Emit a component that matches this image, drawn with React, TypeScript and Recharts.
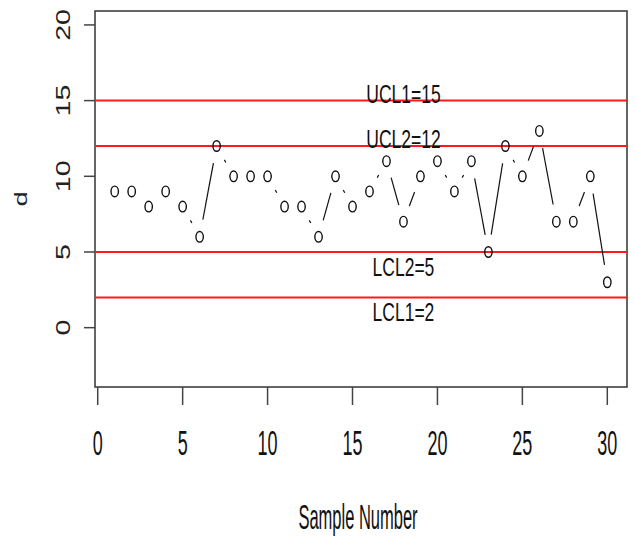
import { LineChart, Line, XAxis, YAxis, ReferenceLine, ReferenceArea, ReferenceDot } from 'recharts';

// samples and number of defectives per sample
const samples = [1, 2, 3, 4, 5, 6, 7, 8, 9, 10, 11, 12, 13, 14, 15, 16, 17, 18, 19, 20, 21, 22, 23, 24, 25, 26, 27, 28, 29, 30];
const defects = [9, 9, 8, 9, 8, 6, 12, 10, 10, 10, 8, 8, 6, 10, 8, 9, 11, 7, 10, 11, 9, 11, 5, 12, 10, 13, 7, 7, 10, 3];

// control limits
const limitNames = ['UCL1', 'UCL2', 'LCL2', 'LCL1'];
const limitValues = [15, 12, 5, 2];
const limitLabelX = 18;

const xTicks = [0, 5, 10, 15, 20, 25, 30];
const yTicks = [0, 5, 10, 15, 20];
const xDomain = [-0.16, 31.16];
const yDomain = [-3.92, 20.92];

const data = samples.map((s, i) => ({ sample: s, d: defects[i] }));

const FONT = '"Liberation Sans", Arial, sans-serif';
const INK = '#111';
const STRETCH = 1.45; // the original plot is stretched vertically
const GAP = 12.3;

const cache: { x: number; y: number }[] = [];

function PointMark(props: any) {
  const { cx, cy, index, points } = props;
  if (cx == null || cy == null) return <g key={'p' + index} />;
  cache[index] = { x: cx, y: cy };
  const prev = points && points[index - 1] ? points[index - 1] : index > 0 ? cache[index - 1] : null;
  let seg = null;
  if (prev) {
    const dx = cx - prev.x;
    const dy = (cy - prev.y) / STRETCH;
    const len = Math.hypot(dx, dy);
    if (len > 2 * GAP) {
      const ux = dx / len;
      const uy = dy / len;
      seg = (
        <line
          x1={prev.x + ux * GAP}
          y1={prev.y + uy * GAP * STRETCH}
          x2={cx - ux * GAP}
          y2={cy - uy * GAP * STRETCH}
          stroke={INK}
          strokeWidth={1.2}
        />
      );
    }
  }
  return (
    <g key={'p' + index}>
      {seg}
      <ellipse cx={cx} cy={cy} rx={3.7} ry={5.3} fill="none" stroke={INK} strokeWidth={1.4} />
    </g>
  );
}

function XTick(props: any) {
  const { x, y, payload } = props;
  return (
    <g>
      <line x1={x} y1={y} x2={x} y2={y + 18} stroke="#444" strokeWidth={1.5} />
      <g transform={`translate(${x},${y + 55}) scale(1,1.95)`}>
        <text x={0} y={0.358 * 18} textAnchor="middle" fontSize={18} fontFamily={FONT} fill={INK}>
          {payload.value}
        </text>
      </g>
    </g>
  );
}

function YTick(props: any) {
  const { x, y, payload } = props;
  return (
    <g>
      <line x1={x - 11} y1={y} x2={x} y2={y} stroke="#444" strokeWidth={1.5} />
      <g transform={`translate(${x - 32},${y}) rotate(-90) scale(1.43,1)`}>
        <text x={0} y={0.358 * 20} textAnchor="middle" fontSize={20} fontFamily={FONT} fill="#222">
          {payload.value}
        </text>
      </g>
    </g>
  );
}

function LimitLabel(name: string, value: number) {
  return (props: any) => {
    const { cx, cy } = props;
    const dy = name.startsWith('U') ? -7 : 15;
    return (
      <g transform={`translate(${cx},${cy + dy}) scale(1,1.45)`}>
        <text x={0} y={0.358 * 17.5} textAnchor="middle" fontSize={17.5} fontFamily={FONT} fill={INK}>
          {name + '=' + value}
        </text>
      </g>
    );
  };
}

export default function App() {
  return (
    <div style={{ position: 'absolute', left: 0, top: 0, width: 635, height: 538, background: '#fff' }}>
      <LineChart width={635} height={538} data={data} margin={{ top: 11, right: 8, bottom: 0, left: 0 }}>
        <XAxis
          dataKey="sample"
          type="number"
          domain={xDomain}
          ticks={xTicks}
          interval={0}
          allowDataOverflow
          height={151}
          axisLine={false}
          tickLine={false}
          tickSize={0}
          tickMargin={0}
          tick={<XTick />}
          label={{
            content: (p: any) => {
              const vb = p.viewBox;
              return (
                <g transform={`translate(${vb.x + vb.width / 2 - 3},${vb.y + 130}) scale(1,2.1)`}>
                  <text x={0} y={0.358 * 16.5} textAnchor="middle" fontSize={16.5} fontFamily={FONT} fill={INK}>
                    Sample Number
                  </text>
                </g>
              );
            },
          }}
        />
        <YAxis
          type="number"
          domain={yDomain}
          ticks={yTicks}
          interval={0}
          allowDataOverflow
          width={95}
          axisLine={false}
          tickLine={false}
          tickSize={0}
          tickMargin={0}
          tick={<YTick />}
          label={{
            content: (p: any) => {
              const vb = p.viewBox;
              return (
                <g transform={`translate(20,${vb.y + vb.height / 2}) rotate(-90) scale(1.43,1)`}>
                  <text x={0} y={0.358 * 19} textAnchor="middle" fontSize={19} fontFamily={FONT} fill="#222">
                    d
                  </text>
                </g>
              );
            },
          }}
        />
        {limitValues.map((v, i) => (
          <ReferenceLine key={'l' + i} y={v} stroke="#ff1a1a" strokeWidth={2} />
        ))}
        <ReferenceArea
          x1={xDomain[0]}
          x2={xDomain[1]}
          y1={yDomain[0]}
          y2={yDomain[1]}
          fill="none"
          fillOpacity={0}
          stroke="#333"
          strokeWidth={1.5}
        />
        {limitValues.map((v, i) => (
          <ReferenceDot
            key={'t' + i}
            x={limitLabelX}
            y={v}
            r={0}
            shape={LimitLabel(limitNames[i], v)}
          />
        ))}
        <Line
          dataKey="d"
          stroke="none"
          dot={PointMark}
          activeDot={false}
          isAnimationActive={false}
        />
      </LineChart>
    </div>
  );
}
